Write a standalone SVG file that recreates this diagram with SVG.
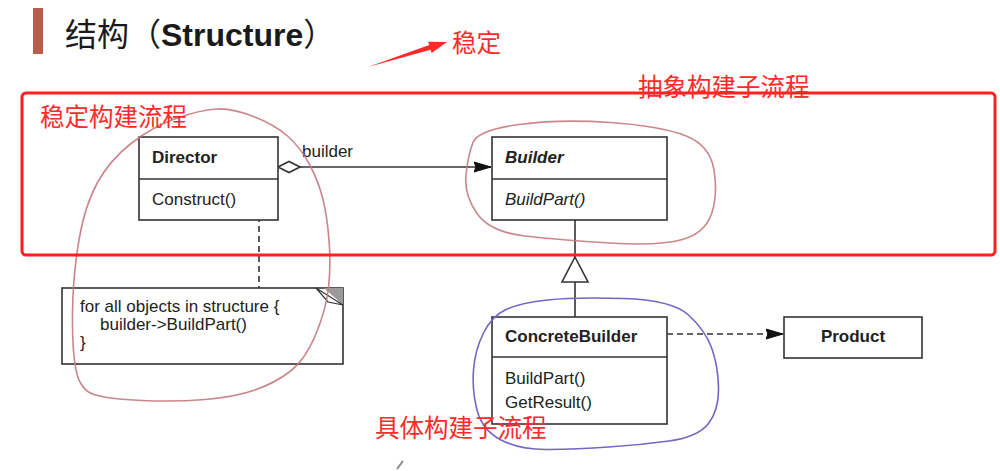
<svg xmlns="http://www.w3.org/2000/svg" width="1000" height="471" viewBox="0 0 1000 471">
<style>
.box{fill:#fff;stroke:#333;stroke-width:1.6}
.ln{fill:none;stroke:#333;stroke-width:1.6}
.dash{fill:none;stroke:#333;stroke-width:1.6;stroke-dasharray:6 4}
.t{font-family:"Liberation Sans",Arial,sans-serif;font-size:17px;fill:#222}
.b{font-weight:bold}
.i{font-style:italic}
.red{font-family:"Noto Sans CJK SC",sans-serif;font-size:24.5px;fill:#ff2a2a}
.loop{fill:none;stroke:#c47a7e;stroke-width:1.6;opacity:0.9}
.ploop{fill:none;stroke:#7466c4;stroke-width:1.6}
</style>
<defs>
<marker id="fa" markerWidth="18" markerHeight="12" refX="17" refY="6" orient="auto" markerUnits="userSpaceOnUse">
<path d="M0,1 L17,6 L0,11 L2,6 Z" fill="#111" stroke="#111" stroke-width="1" stroke-linejoin="round"/>
</marker>
</defs>
<rect x="0" y="0" width="1000" height="471" fill="#fff"/>

<g id="title">
<rect x="33" y="8" width="10" height="46" fill="#b95c4b"/>
<text x="65" y="46" font-size="32" fill="#1a1a1a"><tspan font-family="Noto Sans CJK SC, sans-serif">结构（</tspan><tspan font-family="Liberation Sans, Arial, sans-serif" font-weight="bold">Structure</tspan><tspan font-family="Noto Sans CJK SC, sans-serif">）</tspan></text>
</g>

<g id="connectors">
<line class="ln" x1="300" y1="167" x2="491" y2="167" marker-end="url(#fa)"/>
<polygon points="278,167 289,161.5 300,167 289,172.5" fill="#fff" stroke="#333" stroke-width="1.6"/>
<text class="t" x="302" y="157">builder</text>
<circle cx="259" cy="202" r="3.8" fill="#fff" stroke="#333" stroke-width="1.6"/>
<line class="dash" x1="259" y1="206" x2="259" y2="288"/>
<line class="ln" x1="575" y1="220" x2="575" y2="257"/>
<polygon points="575,257 588,282 562,282" fill="#fff" stroke="#333" stroke-width="1.6"/>
<line class="ln" x1="575" y1="282" x2="575" y2="317"/>
<line class="dash" x1="667" y1="334" x2="783" y2="334" marker-end="url(#fa)"/>
</g>

<g id="director">
<rect class="box" x="139" y="137" width="139" height="83"/>
<line class="ln" x1="139" y1="179" x2="278" y2="179"/>
<text class="t b" x="152" y="163">Director</text>
<text class="t" x="152" y="205">Construct()</text>
</g>

<g id="builder">
<rect class="box" x="492" y="137" width="175" height="83"/>
<line class="ln" x1="492" y1="179" x2="667" y2="179"/>
<text class="t b i" x="505" y="163">Builder</text>
<text class="t i" x="505" y="205">BuildPart()</text>
</g>

<g id="note">
<rect class="box" x="62" y="288" width="281" height="76"/>
<polygon points="324,288 343,288 343,305" fill="#9a9a9a"/>
<polygon points="316,288 343,305 328,302" fill="#fff" stroke="#333" stroke-width="1.2"/>
<text class="t" x="80" y="312">for all objects in structure {</text>
<text class="t" x="100" y="330">builder-&gt;BuildPart()</text>
<text class="t" x="80" y="348">}</text>
</g>

<g id="concrete-builder">
<rect class="box" x="492" y="317" width="175" height="107"/>
<line class="ln" x1="492" y1="357" x2="667" y2="357"/>
<text class="t b" x="505" y="342">ConcreteBuilder</text>
<text class="t" x="505" y="384">BuildPart()</text>
<text class="t" x="505" y="408">GetResult()</text>
</g>

<g id="product">
<rect class="box" x="784" y="317" width="138" height="41"/>
<text class="t b" x="853" y="342" text-anchor="middle">Product</text>
</g>

<g id="annotations">
<path class="loop" d="M176,118.5 Q200,110 216,109 Q232,108 253.5,116.5 Q275,125 287.5,136 Q300,147 309,163.5 Q318,180 322.5,197.5 Q327,215 329,240 Q331,265 328.5,287.5 Q326,310 315.5,335 Q305,360 290,371.5 Q275,383 255,390 Q235,397 205,399.5 Q175,402 141.5,400.5 Q108,399 94,394.5 Q80,390 76,370 Q72,350 72.5,312.5 Q73,275 79,240 Q85,205 97.5,182.5 Q110,160 131,143.5 Q152,127 176,118.5"/>
<path class="loop" d="M519,124.5 Q560,119 610,122.5 Q660,126 685,135.5 Q710,145 714,170 Q718,195 711.5,214 Q705,233 682.5,239.5 Q660,246 610,243 Q560,240 525,236 Q490,232 477,213.5 Q464,195 466,175 Q468,155 473,142.5 Q478,130 519,124.5 Z"/>
<path class="ploop" d="M547.5,300 Q575,297 623.5,298.5 Q672,300 688.5,315 Q705,330 711.5,347.5 Q718,365 718.5,387.5 Q719,410 708.5,423.5 Q698,437 669,441 Q640,445 608.5,447 Q577,449 548.5,449.5 Q520,450 501,440 Q482,430 477,410 Q472,390 473.5,370 Q475,350 483.5,333 Q492,316 506,309.5 Q520,303 547.5,300 Z"/>
<path d="M403,461 L397,469" stroke="#888" stroke-width="2" fill="none"/>
</g>

<g id="stable-arrow">
<polygon points="368,67 430.6,49.8 431.7,53.1 447,42 428.1,41.7 429.2,45 " fill="#ff2a2a"/>
<text class="red" x="452" y="52">稳定</text>
</g>

<g id="frame">
<rect x="22" y="93" width="973" height="162" rx="4" fill="none" stroke="#ff2020" stroke-width="3"/>
<text class="red" x="40" y="126">稳定构建流程</text>
<text class="red" x="638" y="96">抽象构建子流程</text>
<text class="red" x="375" y="437">具体构建子流程</text>
</g>
</svg>
